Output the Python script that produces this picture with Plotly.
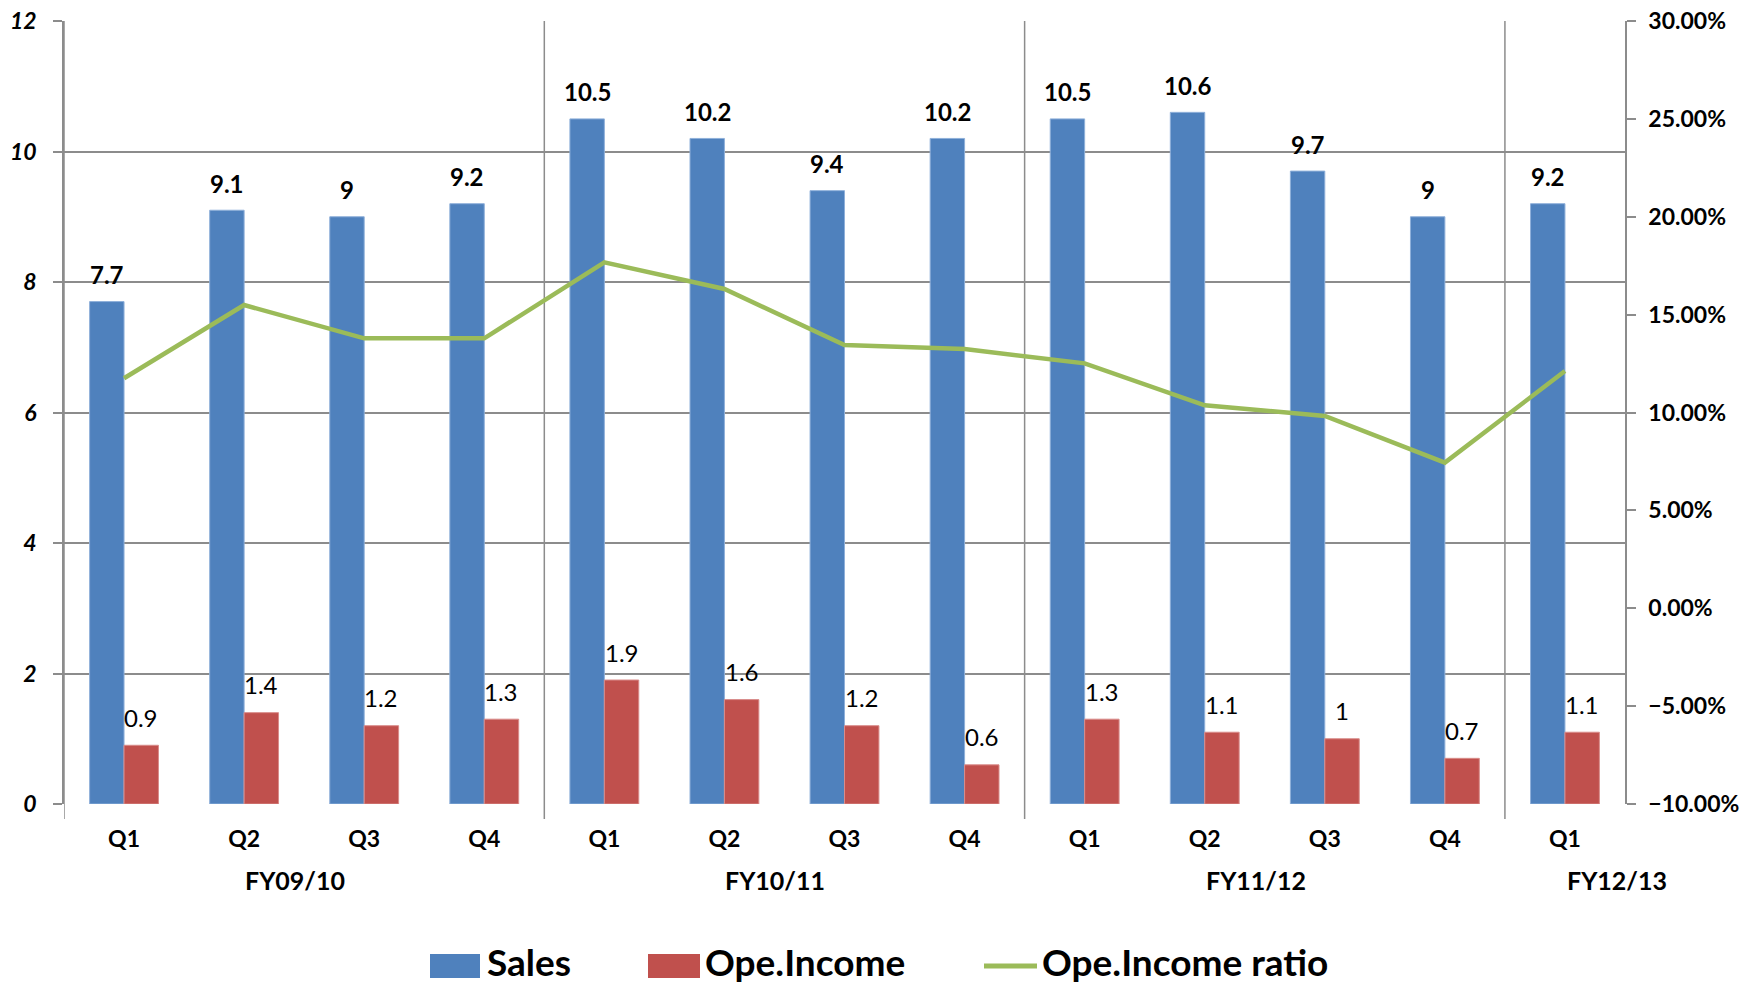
import plotly.graph_objects as go

# ---- data ----
fiscal_years = ["FY09/10"] * 4 + ["FY10/11"] * 4 + ["FY11/12"] * 4 + ["FY12/13"]
quarters = ["Q1", "Q2", "Q3", "Q4", "Q1", "Q2", "Q3", "Q4", "Q1", "Q2", "Q3", "Q4", "Q1"]
sales = [7.7, 9.1, 9.0, 9.2, 10.5, 10.2, 9.4, 10.2, 10.5, 10.6, 9.7, 9.0, 9.2]
ope_income = [0.9, 1.4, 1.2, 1.3, 1.9, 1.6, 1.2, 0.6, 1.3, 1.1, 1.0, 0.7, 1.1]
ope_ratio = [0.1175, 0.1549, 0.1379, 0.1379, 0.1767, 0.1631, 0.1345, 0.1324,
             0.1251, 0.1037, 0.0982, 0.0744, 0.1212]
series_names = ["Sales", "Ope.Income", "Ope.Income ratio"]

FONT = "Lato"
GRID = "#8c8c8c"
C_SALES, C_OPE, C_RATIO = "#4F81BD", "#C0504D", "#9BBB59"
BAR_W = 0.2867
W, H = 1742, 987
ML, MR, MT, MB = 64, 117, 21, 183
PW, PH = W - ML - MR, H - MT - MB
idx = list(range(len(quarters)))

fig = go.Figure()
fig.add_trace(go.Bar(
    x=idx, y=sales, name=series_names[0], width=BAR_W, offset=-BAR_W,
    marker=dict(color=C_SALES, line=dict(color="#8fb0da", width=1)), showlegend=False,
))
fig.add_trace(go.Bar(
    x=idx, y=ope_income, name=series_names[1], width=BAR_W, offset=0,
    marker=dict(color=C_OPE, line=dict(color="#d98c8a", width=1)), showlegend=False,
))
fig.add_trace(go.Scatter(
    x=idx, y=ope_ratio, name=series_names[2], yaxis="y2", mode="lines",
    line=dict(color=C_RATIO, width=4.5), showlegend=False,
))

annotations = []
for i, v in zip(idx, sales):
    annotations.append(dict(x=i - BAR_W / 2, y=v, xref="x", yref="y", text=f"{v:g}",
                            showarrow=False, yanchor="middle", yshift=27,
                            font=dict(family=FONT, size=24, color="black", weight="bold")))
for i, v in zip(idx, ope_income):
    annotations.append(dict(x=i + BAR_W / 2, y=v, xref="x", yref="y", text=f"{v:g}",
                            showarrow=False, yanchor="middle", yshift=28,
                            font=dict(family=FONT, size=24, color="black")))

# group boundaries derived from the fiscal-year list
shapes = []
groups = []
for i, fy in enumerate(fiscal_years):
    if not groups or groups[-1][0] != fy:
        groups.append([fy, i, i])
    else:
        groups[-1][2] = i
for fy, a, b in groups:
    shapes.append(dict(type="line", xref="x", yref="paper", x0=a - 0.5, x1=a - 0.5,
                       y0=-0.019, y1=1, line=dict(color=GRID, width=1.5), layer="below"))
    annotations.append(dict(
        x=(a + b) / 2, y=0, xref="x", yref="paper", yshift=-76, showarrow=False,
        xshift=52 if a == b else -9, text=fy, yanchor="middle",
        font=dict(family=FONT, size=25, color="black", weight="bold"),
    ))

# ---- legend (large swatches like the original) ----
def px_x(p):
    return (p - ML) / PW

def px_y(p):
    return (H - MB - p) / PH

LEG_Y = 966
LEG_TXT_Y = 961
legend_items = [  # (name, color, kind, swatch_left, swatch_right, text_left)
    (series_names[0], C_SALES, "rect", 430, 480, 485),
    (series_names[1], C_OPE, "rect", 648, 700, 703),
    (series_names[2], C_RATIO, "line", 984, 1037, 1040),
]
for name, col, kind, x0, x1, tx in legend_items:
    if kind == "rect":
        shapes.append(dict(type="rect", xref="paper", yref="paper",
                           x0=px_x(x0), x1=px_x(x1), y0=px_y(LEG_Y + 12), y1=px_y(LEG_Y - 12),
                           fillcolor=col, line=dict(width=0)))
    else:
        shapes.append(dict(type="line", xref="paper", yref="paper",
                           x0=px_x(x0), x1=px_x(x1), y0=px_y(LEG_Y), y1=px_y(LEG_Y),
                           line=dict(color=col, width=5)))
    annotations.append(dict(x=px_x(tx), y=px_y(LEG_TXT_Y), xref="paper", yref="paper",
                            xanchor="left", yanchor="middle", showarrow=False, text=name,
                            font=dict(family=FONT, size=37, color="black", weight="bold")))

fig.update_layout(
    width=W, height=H,
    paper_bgcolor="white", plot_bgcolor="white",
    margin=dict(l=ML, r=MR, t=MT, b=MB, autoexpand=False),
    barmode="overlay",
    font=dict(family=FONT, color="black"),
    showlegend=False,
    xaxis=dict(
        range=[-0.5, len(idx) - 0.5], tickmode="array", tickvals=idx, ticktext=quarters,
        showgrid=False, zeroline=False, ticks="", showline=False,
        tickfont=dict(family=FONT, size=23, color="black", weight="bold"),
        ticklabelstandoff=19,
    ),
    yaxis=dict(
        range=[0, 12], dtick=2, showgrid=True, gridcolor=GRID, gridwidth=1.5,
        zeroline=False, showline=True, linecolor=GRID, linewidth=1.5,
        ticks="outside", ticklen=9, tickcolor=GRID, tickwidth=1.5,
        tickfont=dict(family=FONT, size=23, color="black", weight="bold", style="italic"),
        ticklabelstandoff=12,
    ),
    yaxis2=dict(
        range=[-0.10, 0.30], dtick=0.05, tickformat=".2%", overlaying="y", side="right",
        showgrid=False, zeroline=False, showline=True, linecolor=GRID, linewidth=1.5,
        ticks="outside", ticklen=9, tickcolor=GRID, tickwidth=1.5,
        tickfont=dict(family=FONT, size=23, color="black", weight="bold"),
        ticklabelstandoff=8,
    ),
    shapes=shapes,
    annotations=annotations,
)

fig.write_html("out.html", config={"displayModeBar": False},
               post_script="document.body.style.margin='0';")
